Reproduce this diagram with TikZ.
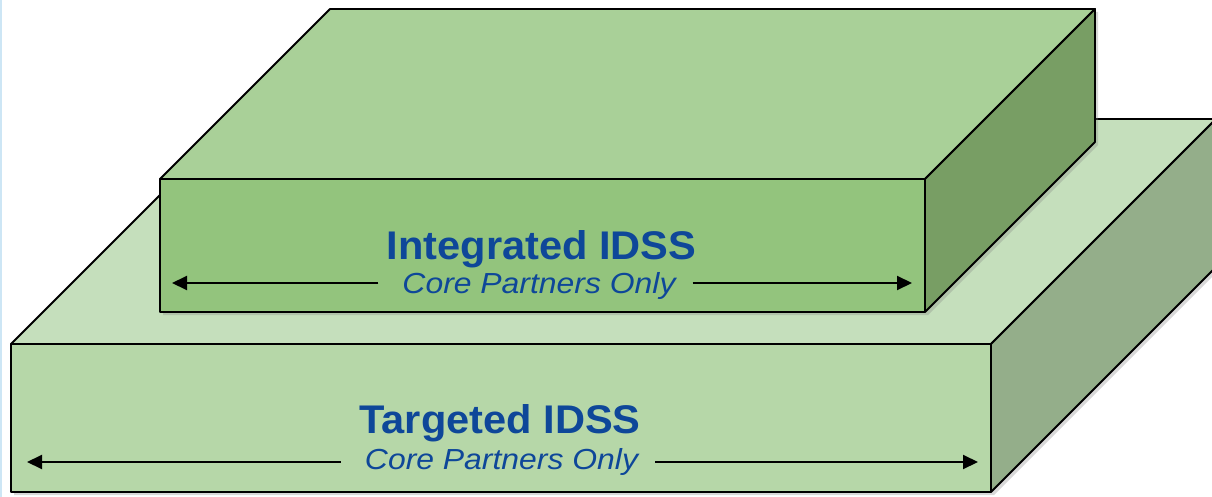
\documentclass[tikz,border=0pt]{standalone}
\usepackage{fontspec}
\setmainfont{Liberation Sans}
\usetikzlibrary{arrows.meta,shadows,calc}
\definecolor{idssblue}{RGB}{14,71,153}
\definecolor{smalltop}{RGB}{169,208,152}
\definecolor{smallfront}{RGB}{147,196,125}
\definecolor{smallside}{RGB}{120,158,100}
\definecolor{bigtop}{RGB}{197,223,188}
\definecolor{bigfront}{RGB}{182,215,168}
\definecolor{bigside}{RGB}{148,174,138}
\definecolor{edgeblue}{RGB}{205,230,245}

\begin{document}
\begin{tikzpicture}[x=1pt,y=-1pt,
  face/.style={draw=black,line width=1.8pt,line join=round},
  boxshadow/.style={drop shadow={shadow xshift=3pt,shadow yshift=-3pt,opacity=.3}},
  title/.style={text=idssblue,font=\bfseries\fontsize{40}{42}\selectfont,anchor=base,inner sep=0pt},
  sub/.style={text=idssblue,font=\itshape\fontsize{29}{31}\selectfont,anchor=base,inner sep=0pt},
  span/.style={line width=2pt,-{Triangle[length=15pt,width=14pt]}}]
  \useasboundingbox (0,0) rectangle (1212,497);
  \clip (0,0) rectangle (1212,497);
  \fill[white] (0,0) rectangle (1212,497);
  \fill[edgeblue] (0,0) rectangle (2,497);

  % lower box
  \path[boxshadow] (11,344) -- (236,119) -- (1216,119) -- (1216,267) -- (991,492) -- (11,492) -- cycle;
  \filldraw[face,fill=bigtop] (11,344) -- (236,119) -- (1216,119) -- (991,344) -- cycle;
  \filldraw[face,fill=bigfront] (11,344) rectangle (991,492);
  \filldraw[face,fill=bigside] (991,344) -- (1216,119) -- (1216,267) -- (991,492) -- cycle;

  % upper box
  \path[boxshadow] (160,179) -- (330,9) -- (1095,9) -- (1095,142) -- (925,312) -- (160,312) -- cycle;
  \filldraw[face,fill=smalltop] (160,179) -- (330,9) -- (1095,9) -- (925,179) -- cycle;
  \filldraw[face,fill=smallfront] (160,179) rectangle (925,312);
  \filldraw[face,fill=smallside] (925,179) -- (1095,9) -- (1095,142) -- (925,312) -- cycle;

  % labels
  \node[title] (A) at (541.5,259) {\scalebox{1.04}[1]{Integrated IDSS}};
  \node[sub] (B) at (539,293) {\scalebox{1.1}[1]{Core Partners Only}};
  \node[title] (C) at (500,433) {\scalebox{1.04}[1]{Targeted IDSS}};
  \node[sub] (D) at (501.5,469) {\scalebox{1.1}[1]{Core Partners Only}};

  % spans
  \coordinate (E) at (172,283);
  \coordinate (F) at (912,283);
  \coordinate (G) at (27,462);
  \coordinate (H) at (978,462);
  \draw[span] ($(B.west |- E)+(-24,0)$) -- (E);
  \draw[span] ($(B.east |- F)+(17,0)$) -- (F);
  \draw[span] ($(D.west |- G)+(-24,0)$) -- (G);
  \draw[span] ($(D.east |- H)+(17,0)$) -- (H);
\end{tikzpicture}
\end{document}
